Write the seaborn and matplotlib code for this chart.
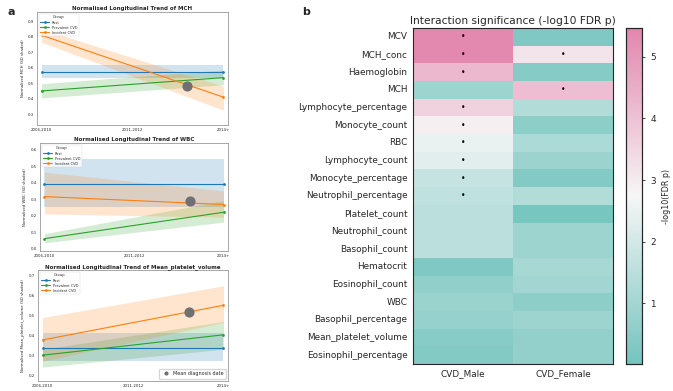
import numpy as np
import pandas as pd
import matplotlib
matplotlib.use("Agg")
import matplotlib.pyplot as plt
from matplotlib.colors import LinearSegmentedColormap
from matplotlib.lines import Line2D
import seaborn as sns

sns.set_style("white")
plt.rcParams['font.family'] = ['DejaVu Sans']

# ---------------- Panel a data ----------------
periods = ["2006-2010", "2011-2012", "2014+"]
groups = ["Rest", "Prevalent CVD", "Incident CVD"]
group_colors = ["#1f77b4", "#2ca02c", "#ff7f0e"]

mch_mean = {"Rest": [0.575, 0.575], "Prevalent CVD": [0.450, 0.536], "Incident CVD": [0.810, 0.410]}
mch_low = {"Rest": [0.535, 0.535], "Prevalent CVD": [0.405, 0.490], "Incident CVD": [0.765, 0.326]}
mch_high = {"Rest": [0.615, 0.615], "Prevalent CVD": [0.497, 0.585], "Incident CVD": [0.850, 0.480]}
mch_diag = [1.60, 0.485]

wbc_mean = {"Rest": [0.390, 0.390], "Prevalent CVD": [0.060, 0.220], "Incident CVD": [0.315, 0.267]}
wbc_low = {"Rest": [0.250, 0.250], "Prevalent CVD": [0.035, 0.160], "Incident CVD": [0.210, 0.190]}
wbc_high = {"Rest": [0.545, 0.545], "Prevalent CVD": [0.090, 0.290], "Incident CVD": [0.463, 0.350]}
wbc_diag = [1.63, 0.290]

mpv_mean = {"Rest": [0.339, 0.339], "Prevalent CVD": [0.300, 0.403], "Incident CVD": [0.377, 0.552]}
mpv_low = {"Rest": [0.270, 0.270], "Prevalent CVD": [0.240, 0.330], "Incident CVD": [0.270, 0.466]}
mpv_high = {"Rest": [0.410, 0.410], "Prevalent CVD": [0.330, 0.470], "Incident CVD": [0.490, 0.650]}
mpv_diag = [1.62, 0.520]

trend_titles = ["Normalised Longitudinal Trend of MCH",
                "Normalised Longitudinal Trend of WBC",
                "Normalised Longitudinal Trend of Mean_platelet_volume"]
trend_ylabels = ["Normalised MCH (SD shaded)",
                 "Normalised WBC (SD shaded)",
                 "Normalised Mean_platelet_volume (SD shaded)"]
trend_yticks = [[0.3, 0.4, 0.5, 0.6, 0.7, 0.8, 0.9],
                [0.0, 0.1, 0.2, 0.3, 0.4, 0.5, 0.6],
                [0.2, 0.3, 0.4, 0.5, 0.6, 0.7]]
trend_ylims = [(0.23, 0.96), (-0.015, 0.64), (0.17, 0.73)]

# ---------------- Panel b data ----------------
markers = ["MCV", "MCH_conc", "Haemoglobin", "MCH", "Lymphocyte_percentage",
           "Monocyte_count", "RBC", "Lymphocyte_count", "Monocyte_percentage",
           "Neutrophil_percentage", "Platelet_count", "Neutrophil_count",
           "Basophil_count", "Hematocrit", "Eosinophil_count", "WBC",
           "Basophil_percentage", "Mean_platelet_volume", "Eosinophil_percentage"]
cvd_male = [5.40, 5.40, 4.25, 0.90, 3.65, 2.90, 2.50, 2.30, 1.70, 1.60,
            1.50, 1.50, 1.50, 0.25, 0.60, 0.80, 0.75, 0.45, 0.35]
cvd_female = [0.25, 3.20, 0.40, 4.10, 1.30, 0.55, 1.20, 0.85, 0.35, 1.30,
              0.10, 0.90, 0.90, 1.10, 1.00, 0.55, 0.90, 0.65, 0.65]
sig_male = [1, 1, 1, 0, 1, 1, 1, 1, 1, 1, 0, 0, 0, 0, 0, 0, 0, 0, 0]
sig_female = [0, 1, 0, 1, 0, 0, 0, 0, 0, 0, 0, 0, 0, 0, 0, 0, 0, 0, 0]
columns = ["CVD_Male", "CVD_Female"]

fig = plt.figure(figsize=(6.73, 3.91), dpi=100)

trend_sets = [(mch_mean, mch_low, mch_high, mch_diag),
              (wbc_mean, wbc_low, wbc_high, wbc_diag),
              (mpv_mean, mpv_low, mpv_high, mpv_diag)]
axes_pos = [(37, 12, 228, 125), (40, 143, 228, 251), (38, 270, 228, 381)]
W, H = 673, 391
for i, ((mean, low, high, diag), (x0, y0, x1, y1)) in enumerate(zip(trend_sets, axes_pos)):
    ax = fig.add_axes([x0 / W, 1 - y1 / H, (x1 - x0) / W, (y1 - y0) / H])
    rows = []
    for g in groups:
        for xi, v in zip([0, 2], mean[g]):
            rows.append({"x": xi, "y": v, "Group": g})
    df = pd.DataFrame(rows)
    for g, c in zip(groups, group_colors):
        ax.fill_between([0, 2], low[g], high[g], color=c, alpha=0.2, linewidth=0)
    sns.lineplot(data=df, x="x", y="y", hue="Group", hue_order=groups,
                 palette=group_colors, marker="o", markersize=2, markeredgewidth=0,
                 linewidth=0.8, ax=ax, legend=True)
    ax.scatter([diag[0]], [diag[1]], s=40, color="#707070", zorder=5)
    ax.set_xticks([0, 1, 2])
    ax.set_xticklabels(periods, fontsize=2.8)
    ax.set_yticks(trend_yticks[i])
    ax.set_yticklabels([f"{t:.1f}" for t in trend_yticks[i]], fontsize=2.8)
    ax.set_ylim(*trend_ylims[i])
    ax.set_xlim(-0.05, 2.05)
    ax.tick_params(length=1.5, width=0.4, pad=1)
    ax.set_xlabel("")
    ax.set_ylabel(trend_ylabels[i], fontsize=2.8, labelpad=2)
    ax.set_title(trend_titles[i], fontsize=4, fontweight="bold", pad=1.5)
    for s in ax.spines.values():
        s.set_color("#999999")
        s.set_linewidth(0.6)
    leg = ax.legend(title="Group", loc="upper left", fontsize=2.5, title_fontsize=2.7,
                    frameon=True, borderpad=0.5, handlelength=2.5, labelspacing=0.3)
    leg.get_frame().set_linewidth(0.3)
    if i == 2:
        h = [Line2D([0], [0], marker="o", color="w", markerfacecolor="#707070",
                    markersize=4, label="Mean diagnosis date")]
        ax.add_artist(leg)
        ax.legend(handles=h, loc="lower right", fontsize=3.5, frameon=True,
                  handletextpad=0.3, borderpad=0.5)

fig.text(8 / W, 1 - 12 / H, "a", fontsize=8, fontweight="bold", va="center")
fig.text(302 / W, 1 - 12 / H, "b", fontsize=8, fontweight="bold", va="center")

# ---------------- Panel b ----------------
hx0, hy0, hx1, hy1 = 413, 28, 613, 364
axh = fig.add_axes([hx0 / W, 1 - hy1 / H, (hx1 - hx0) / W, (hy1 - hy0) / H])
cx0, cx1 = 626, 642
cax = fig.add_axes([cx0 / W, 1 - hy1 / H, (cx1 - cx0) / W, (hy1 - hy0) / H])

hm = pd.DataFrame({"CVD_Male": cvd_male, "CVD_Female": cvd_female}, index=markers)
ann = pd.DataFrame({"CVD_Male": ["•" if s else "" for s in sig_male],
                    "CVD_Female": ["•" if s else "" for s in sig_female]}, index=markers)
cmap = LinearSegmentedColormap.from_list("tp", ["#74c4be", "#f6f6f6", "#e386ad"])
sns.heatmap(hm, ax=axh, cbar_ax=cax, cmap=cmap, vmin=0.01, vmax=5.47,
            annot=ann, fmt="", annot_kws={"fontsize": 5.5, "color": "black"},
            cbar_kws={"label": "-log10(FDR p)"})
axh.set_title("Interaction significance (-log10 FDR p)", fontsize=7.7, pad=3)
axh.tick_params(axis="y", labelsize=6.4, length=2.5, width=0.6, pad=1.5, rotation=0)
axh.tick_params(axis="x", labelsize=6.4, length=2.5, width=0.6, pad=1.5)
for s in axh.spines.values():
    s.set_visible(True)
    s.set_linewidth(0.8)
cax.tick_params(labelsize=6.4, length=2.5, width=0.6)
cax.set_ylabel("-log10(FDR p)", fontsize=5.8)
cax.set_yticks([1, 2, 3, 4, 5])
for s in cax.spines.values():
    s.set_visible(True)
    s.set_linewidth(0.8)

fig.savefig("out.png", dpi=100)
